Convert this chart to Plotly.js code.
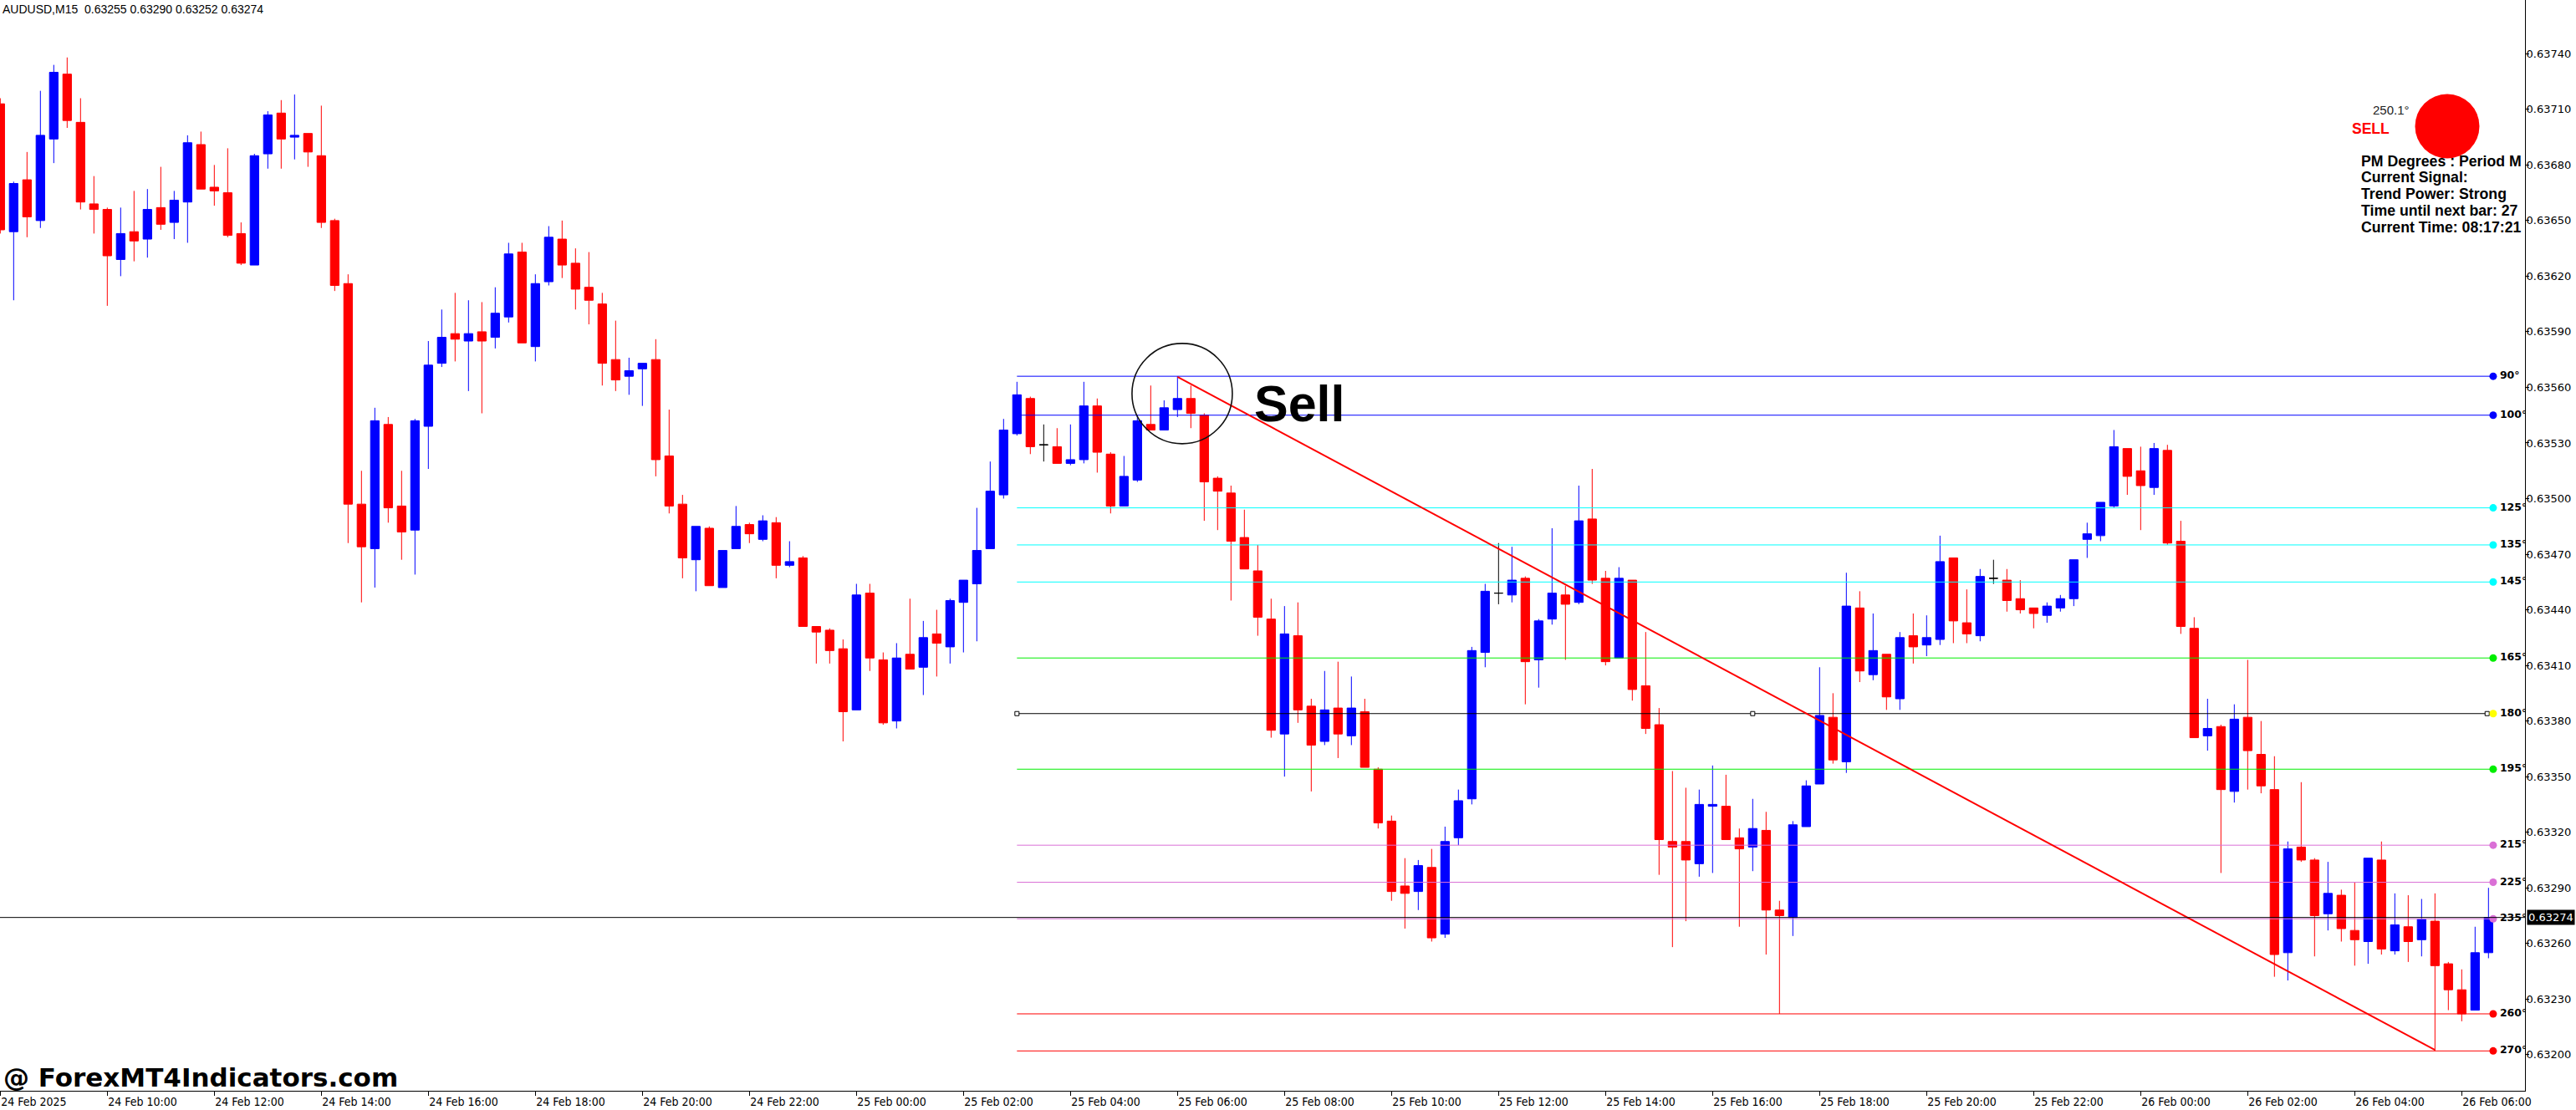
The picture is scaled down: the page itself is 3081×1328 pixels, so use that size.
<!DOCTYPE html>
<html><head><meta charset="utf-8">
<script src="https://cdn.plot.ly/plotly-3.0.1.min.js"></script>
<style>html,body{margin:0;padding:0;background:#fff;}#chart{width:3081px;height:1328px;}</style>
</head><body><div id="chart"></div>
<script>
// ---------------- DATA ----------------
const headerText = "AUDUSD,M15\u00a0\u00a00.63255 0.63290 0.63252 0.63274";
const startTime = "2025-02-24T08:00:00Z";
const barMinutes = 15;

const openP = [
0.63713,0.63644,0.63672,0.63650,0.63694,0.63729,0.63703,0.63659,0.63656,0.63629,
0.63644,0.63640,0.63657,0.63649,0.63660,0.63691,0.63668,0.63665,0.63643,0.63626,
0.63686,0.63708,0.63695,0.63697,0.63685,0.63650,0.63616,0.63497,0.63473,0.63540,
0.63496,0.63483,0.63539,0.63573,0.63589,0.63585,0.63590,0.63587,0.63598,0.63633,
0.63582,0.63617,0.63640,0.63627,0.63614,0.63605,0.63575,0.63566,0.63570,0.63575,
0.63523,0.63497,0.63467,0.63484,0.63452,0.63473,0.63486,0.63478,0.63487,0.63464,
0.63468,0.63431,0.63429,0.63419,0.63386,0.63449,0.63413,0.63380,0.63416,0.63409,
0.63427,0.63420,0.63444,0.63454,0.63473,0.63502,0.63535,0.63554,0.63529,0.63528,
0.63519,0.63521,0.63550,0.63524,0.63496,0.63510,0.63540,0.63537,0.63548,0.63554,
0.63545,0.63511,0.63503,0.63479,0.63461,0.63435,0.63373,0.63426,0.63388,0.63369,
0.63387,0.63372,0.63385,0.63354,0.63326,0.63291,0.63288,0.63301,0.63265,0.63317,
0.63338,0.63417,0.63449,0.63448,0.63457,0.63413,0.63435,0.63448,0.63444,0.63489,
0.63457,0.63414,0.63456,0.63399,0.63378,0.63315,0.63315,0.63303,0.63334,0.63334,
0.63317,0.63312,0.63321,0.63278,0.63274,0.63323,0.63346,0.63382,0.63358,0.63441,
0.63405,0.63416,0.63392,0.63426,0.63421,0.63424,0.63468,0.63433,0.63426,0.63457,
0.63456,0.63446,0.63441,0.63437,0.63441,0.63446,0.63478,0.63480,0.63496,0.63527,
0.63515,0.63506,0.63526,0.63477,0.63430,0.63372,0.63377,0.63342,0.63382,0.63362,
0.63343,0.63255,0.63312,0.63305,0.63276,0.63286,0.63267,0.63261,0.63305,0.63256,
0.63269,0.63262,0.63272,0.63249,0.63235,0.63224,0.63255];

const highP = [
0.63716,0.63671,0.63687,0.63720,0.63734,0.63738,0.63716,0.63674,0.63657,0.63657,
0.63666,0.63667,0.63679,0.63666,0.63696,0.63698,0.63680,0.63689,0.63649,0.63686,
0.63709,0.63715,0.63718,0.63697,0.63712,0.63651,0.63621,0.63515,0.63549,0.63544,
0.63515,0.63543,0.63585,0.63602,0.63611,0.63607,0.63606,0.63614,0.63638,0.63638,
0.63621,0.63647,0.63650,0.63635,0.63633,0.63611,0.63596,0.63576,0.63573,0.63586,
0.63548,0.63502,0.63485,0.63485,0.63472,0.63496,0.63487,0.63491,0.63490,0.63477,
0.63469,0.63431,0.63430,0.63424,0.63454,0.63454,0.63417,0.63422,0.63446,0.63434,
0.63440,0.63446,0.63456,0.63495,0.63520,0.63543,0.63563,0.63555,0.63540,0.63538,
0.63540,0.63563,0.63554,0.63525,0.63523,0.63545,0.63561,0.63553,0.63566,0.63561,
0.63546,0.63512,0.63507,0.63494,0.63475,0.63446,0.63442,0.63444,0.63392,0.63407,
0.63412,0.63404,0.63392,0.63355,0.63329,0.63306,0.63305,0.63311,0.63323,0.63343,
0.63420,0.63454,0.63476,0.63474,0.63458,0.63435,0.63484,0.63453,0.63507,0.63516,
0.63461,0.63463,0.63456,0.63428,0.63387,0.63353,0.63344,0.63343,0.63356,0.63351,
0.63322,0.63338,0.63331,0.63283,0.63326,0.63348,0.63409,0.63395,0.63460,0.63450,
0.63438,0.63416,0.63428,0.63438,0.63437,0.63480,0.63468,0.63451,0.63462,0.63467,
0.63462,0.63456,0.63441,0.63444,0.63448,0.63467,0.63487,0.63498,0.63537,0.63527,
0.63528,0.63530,0.63529,0.63488,0.63436,0.63392,0.63378,0.63389,0.63413,0.63380,
0.63361,0.63315,0.63347,0.63306,0.63304,0.63289,0.63293,0.63306,0.63315,0.63287,
0.63286,0.63284,0.63287,0.63250,0.63246,0.63269,0.63290];

const lowP = [
0.63643,0.63607,0.63641,0.63646,0.63681,0.63700,0.63656,0.63643,0.63604,0.63620,
0.63628,0.63630,0.63645,0.63640,0.63638,0.63667,0.63658,0.63641,0.63626,0.63626,
0.63678,0.63678,0.63683,0.63679,0.63646,0.63612,0.63476,0.63444,0.63452,0.63487,
0.63467,0.63459,0.63516,0.63571,0.63574,0.63558,0.63546,0.63581,0.63595,0.63584,
0.63574,0.63615,0.63619,0.63602,0.63594,0.63561,0.63558,0.63556,0.63550,0.63512,
0.63492,0.63457,0.63450,0.63453,0.63452,0.63473,0.63476,0.63477,0.63457,0.63463,
0.63431,0.63411,0.63411,0.63369,0.63386,0.63407,0.63378,0.63376,0.63408,0.63394,
0.63404,0.63411,0.63417,0.63423,0.63473,0.63500,0.63534,0.63524,0.63520,0.63519,
0.63518,0.63519,0.63514,0.63492,0.63496,0.63509,0.63537,0.63537,0.63544,0.63538,
0.63488,0.63483,0.63445,0.63462,0.63426,0.63371,0.63350,0.63379,0.63342,0.63367,
0.63360,0.63367,0.63355,0.63322,0.63283,0.63268,0.63278,0.63261,0.63263,0.63313,
0.63335,0.63409,0.63443,0.63444,0.63389,0.63398,0.63432,0.63413,0.63443,0.63454,
0.63410,0.63414,0.63391,0.63373,0.63297,0.63258,0.63272,0.63296,0.63298,0.63316,
0.63269,0.63299,0.63254,0.63222,0.63264,0.63323,0.63346,0.63357,0.63352,0.63401,
0.63402,0.63386,0.63386,0.63411,0.63415,0.63421,0.63422,0.63422,0.63423,0.63454,
0.63439,0.63438,0.63430,0.63433,0.63439,0.63442,0.63468,0.63477,0.63495,0.63502,
0.63483,0.63502,0.63475,0.63427,0.63371,0.63364,0.63298,0.63336,0.63343,0.63341,
0.63242,0.63240,0.63304,0.63253,0.63267,0.63261,0.63248,0.63249,0.63254,0.63254,
0.63250,0.63253,0.63202,0.63224,0.63218,0.63224,0.63252];

const closeP = [
0.63645,0.63670,0.63652,0.63696,0.63730,0.63704,0.63660,0.63656,0.63631,0.63643,
0.63639,0.63656,0.63648,0.63661,0.63692,0.63667,0.63666,0.63642,0.63627,0.63685,
0.63707,0.63694,0.63696,0.63687,0.63649,0.63615,0.63497,0.63474,0.63542,0.63495,
0.63482,0.63542,0.63572,0.63587,0.63586,0.63589,0.63585,0.63600,0.63632,0.63584,
0.63616,0.63641,0.63626,0.63613,0.63607,0.63573,0.63564,0.63569,0.63573,0.63521,
0.63496,0.63468,0.63485,0.63453,0.63472,0.63485,0.63481,0.63488,0.63464,0.63466,
0.63431,0.63428,0.63418,0.63385,0.63448,0.63414,0.63379,0.63414,0.63408,0.63425,
0.63422,0.63445,0.63456,0.63472,0.63504,0.63537,0.63556,0.63528,0.63529,0.63519,
0.63521,0.63550,0.63525,0.63496,0.63512,0.63542,0.63537,0.63549,0.63554,0.63546,
0.63509,0.63504,0.63477,0.63462,0.63436,0.63375,0.63427,0.63386,0.63367,0.63386,
0.63373,0.63387,0.63355,0.63325,0.63288,0.63287,0.63302,0.63263,0.63315,0.63337,
0.63418,0.63450,0.63449,0.63456,0.63412,0.63434,0.63449,0.63443,0.63488,0.63456,
0.63412,0.63457,0.63397,0.63376,0.63316,0.63312,0.63305,0.63335,0.63335,0.63316,
0.63311,0.63322,0.63278,0.63275,0.63324,0.63345,0.63383,0.63359,0.63442,0.63407,
0.63418,0.63393,0.63425,0.63420,0.63425,0.63466,0.63434,0.63427,0.63458,0.63457,
0.63445,0.63440,0.63438,0.63442,0.63446,0.63467,0.63481,0.63498,0.63528,0.63512,
0.63507,0.63527,0.63476,0.63431,0.63371,0.63376,0.63343,0.63381,0.63364,0.63345,
0.63254,0.63311,0.63305,0.63275,0.63287,0.63268,0.63262,0.63306,0.63257,0.63270,
0.63261,0.63273,0.63248,0.63235,0.63222,0.63255,0.63274];

const xTickTimes = ["2025-02-24 08:00","2025-02-24 10:00","2025-02-24 12:00","2025-02-24 14:00","2025-02-24 16:00","2025-02-24 18:00","2025-02-24 20:00","2025-02-24 22:00","2025-02-25 00:00","2025-02-25 02:00","2025-02-25 04:00","2025-02-25 06:00","2025-02-25 08:00","2025-02-25 10:00","2025-02-25 12:00","2025-02-25 14:00","2025-02-25 16:00","2025-02-25 18:00","2025-02-25 20:00","2025-02-25 22:00","2025-02-26 00:00","2025-02-26 02:00","2025-02-26 04:00","2025-02-26 06:00"];
const xTickLabels = ["24 Feb 2025","24 Feb 10:00","24 Feb 12:00","24 Feb 14:00","24 Feb 16:00","24 Feb 18:00","24 Feb 20:00","24 Feb 22:00","25 Feb 00:00","25 Feb 02:00","25 Feb 04:00","25 Feb 06:00","25 Feb 08:00","25 Feb 10:00","25 Feb 12:00","25 Feb 14:00","25 Feb 16:00","25 Feb 18:00","25 Feb 20:00","25 Feb 22:00","26 Feb 00:00","26 Feb 02:00","26 Feb 04:00","26 Feb 06:00"];
const yTickVals = [0.63200,0.63230,0.63260,0.63290,0.63320,0.63350,0.63380,0.63410,0.63440,0.63470,0.63500,0.63530,0.63560,0.63590,0.63620,0.63650,0.63680,0.63710,0.63740];
const yTickLabels = ["0.63200","0.63230","0.63260","0.63290","0.63320","0.63350","0.63380","0.63410","0.63440","0.63470","0.63500","0.63530","0.63560","0.63590","0.63620","0.63650","0.63680","0.63710","0.63740"];

const bidPrice = 0.63274;
const bidLabel = "0.63274";

const levelDeg   = [90,100,125,135,145,165,180,195,215,225,235,260,270];
const levelPrice = [0.63566,0.63545,0.63495,0.63475,0.63455,0.63414,0.63384,0.63354,0.63313,0.63293,0.632733,0.63222,0.63202];
const levelLineColor = ['#0000ff','#0000ff','#00ffff','#00ffff','#00ffff','#00ee00','#000000','#00ee00','#da70d6','#da70d6','#da70d6','#ff0000','#ff0000'];
const levelDotColor  = ['#0000ff','#0000ff','#00ffff','#00ffff','#00ffff','#00ee00','#ffff00','#00ee00','#da70d6','#da70d6','#da70d6','#ff0000','#ff0000'];

// trend line: from the high of bar 88 to the low of bar 182
const trendBars = [88, 182];
const trendPrices = [0.635657, 0.632025];

const infoAngle = "250.1\u00b0";
const infoSignal = "SELL";
const infoLines = ["PM Degrees : Period M","Current Signal:","Trend Power: Strong","Time until next bar: 27","Current Time: 08:17:21"];
const watermark = "@ ForexMT4Indicators.com";
const sellText = "Sell";

// ---------------- HELPERS ----------------
const t0 = Date.parse(startTime);
const step = barMinutes * 60000;
function dstr(k){ return new Date(t0 + k*step).toISOString().replace('T',' ').slice(0,23); }
const N = openP.length;
const times = openP.map((_, i) => dstr(i));
const allIdx = [...Array(N).keys()];
const dojiIdx = allIdx.filter(i => openP[i] === closeP[i]);
const bodyIdx = allIdx.filter(i => openP[i] !== closeP[i]);
const pick = (arr, ids) => ids.map(i => arr[i]);

const W = 3081, H = 1328, ML = 0, MR = 61, MT = 0, MB = 23;
const PW = W - ML - MR, PH = H - MT - MB;
const px2x = p => (p - ML) / PW;
const py2y = p => 1 - (p - MT) / PH;
const barPx = 16;
const xLeftBar = -0.02;
const xRightBar = xLeftBar + PW / barPx;
const yMin = 0.631805, yMax = 0.637690;

// ---------------- TRACES ----------------
const traces = [];
traces.push({
  type:'candlestick', x: pick(times, bodyIdx),
  open: pick(openP, bodyIdx), high: pick(highP, bodyIdx), low: pick(lowP, bodyIdx), close: pick(closeP, bodyIdx),
  increasing:{line:{color:'#0000ff', width:1}, fillcolor:'#0000ff'},
  decreasing:{line:{color:'#ff0000', width:1}, fillcolor:'#ff0000'},
  whiskerwidth:0, hoverinfo:'skip', showlegend:false
});
traces.push({
  type:'candlestick', x: pick(times, dojiIdx),
  open: pick(openP, dojiIdx), high: pick(highP, dojiIdx), low: pick(lowP, dojiIdx), close: pick(closeP, dojiIdx),
  increasing:{line:{color:'#000000', width:1}, fillcolor:'#000000'},
  decreasing:{line:{color:'#000000', width:1}, fillcolor:'#000000'},
  whiskerwidth:0, hoverinfo:'skip', showlegend:false
});

const levelStartBar = 76, levelEndBar = 186.35, levelLabelBar = 186.85;
levelPrice.forEach((p, k) => {
  traces.push({type:'scatter', mode:'lines', x:[dstr(levelStartBar), dstr(levelEndBar)], y:[p, p],
    line:{color: levelLineColor[k], width:1}, hoverinfo:'skip', showlegend:false});
});
// selection squares on the 180 line
traces.push({type:'scatter', mode:'markers', x:[dstr(76), dstr(131), dstr(185.9)], y:[levelPrice[6], levelPrice[6], levelPrice[6]],
  marker:{symbol:'square', size:5, color:'#ffffff', line:{color:'#000000', width:1}}, hoverinfo:'skip', showlegend:false});
// trend line
traces.push({type:'scatter', mode:'lines', x: trendBars.map(dstr), y: trendPrices,
  line:{color:'#ff0000', width:2}, hoverinfo:'skip', showlegend:false});
// level dots
traces.push({type:'scatter', mode:'markers', x: levelPrice.map(() => dstr(levelEndBar)), y: levelPrice,
  marker:{size:9, color: levelDotColor, line:{width:0}}, hoverinfo:'skip', showlegend:false});
// level labels
traces.push({type:'scatter', mode:'text', x: levelPrice.map(() => dstr(levelLabelBar)), y: levelPrice,
  text: levelDeg.map(d => d + '\u00b0'), textposition:'middle right',
  textfont:{family:'DejaVu Sans, Verdana, sans-serif', size:12.5, color:'#000', weight:'bold'},
  hoverinfo:'skip', showlegend:false});

// ---------------- LAYOUT ----------------
const baseFont = 'DejaVu Sans, Verdana, sans-serif';
const condFont = 'DejaVu Sans Condensed, DejaVu Sans, sans-serif';
const boldFont = 'Liberation Sans, Arial, sans-serif';
const annotations = [];
annotations.push({xref:'paper', yref:'paper', x: px2x(1), y: py2y(11), xanchor:'left', yanchor:'middle',
  text: headerText, showarrow:false, font:{family: boldFont, size:14, color:'#000'}});
annotations.push({xref:'paper', yref:'paper', x: px2x(2), y: py2y(1289), xanchor:'left', yanchor:'middle',
  text: watermark, showarrow:false, font:{family: baseFont, size:31, color:'#000', weight:'bold'}});
annotations.push({xref:'x', yref:'y', x: dstr(93.6), y: 0.635514, xanchor:'left', yanchor:'middle',
  text: sellText, showarrow:false, font:{family: boldFont, size:61, color:'#000', weight:'bold'}});
annotations.push({xref:'paper', yref:'paper', x: px2x(2835.7), y: py2y(131.7), xanchor:'left', yanchor:'middle',
  text: infoAngle, showarrow:false, font:{family: boldFont, size:15, color:'#222'}});
annotations.push({xref:'paper', yref:'paper', x: px2x(2811.3), y: py2y(153.8), xanchor:'left', yanchor:'middle',
  text: infoSignal, showarrow:false, font:{family: boldFont, size:17.5, color:'#ff0000', weight:'bold'}});
const infoY = [192.5, 212.3, 232.4, 252.4, 272.4];
infoLines.forEach((t, k) => {
  annotations.push({xref:'paper', yref:'paper', x: px2x(2822.3), y: py2y(infoY[k]), xanchor:'left', yanchor:'middle',
    text: t, showarrow:false, font:{family: boldFont, size:17.7, color:'#000', weight:'bold'}});
});
annotations.push({xref:'paper', yref:'y', x: 1, xshift: 2, y: bidPrice, xanchor:'left', yanchor:'middle',
  text: bidLabel, showarrow:false, bgcolor:'#000000', borderpad:1,
  font:{family: baseFont, size:13, color:'#ffffff'}});

const shapes = [
  {type:'line', xref:'paper', yref:'y', x0:0, x1:1, y0:bidPrice, y1:bidPrice, line:{color:'#000', width:1}},
  {type:'circle', xref:'x', yref:'y', x0: dstr(84.6), x1: dstr(92.1), y0: 0.635296, y1: 0.635837,
    line:{color:'#111', width:1.6}, fillcolor:'rgba(0,0,0,0)'},
  {type:'circle', xref:'paper', yref:'paper', x0: px2x(2888.5), x1: px2x(2965.5), y0: py2y(189.5), y1: py2y(112.5),
    line:{width:0}, fillcolor:'#ff0000'}
];

const layout = {
  width: W, height: H, margin:{l:ML, r:MR, t:MT, b:MB, pad:0},
  paper_bgcolor:'#ffffff', plot_bgcolor:'#ffffff', showlegend:false,
  boxgap:0.36, boxgroupgap:0,
  xaxis:{type:'date', range:[dstr(xLeftBar), dstr(xRightBar)], rangeslider:{visible:false},
    showgrid:false, zeroline:false, showline:true, linecolor:'#000', linewidth:1,
    ticks:'outside', ticklen:5, tickwidth:1, tickcolor:'#000',
    tickmode:'array', tickvals: xTickTimes, ticktext: xTickLabels,
    ticklabelposition:'outside right', ticklabeloverflow:'allow',
    tickfont:{family: condFont, size:14, color:'#000'}, fixedrange:true},
  yaxis:{side:'right', range:[yMin, yMax], showgrid:false, zeroline:false, showline:true,
    linecolor:'#000', linewidth:1, ticks:'outside', ticklen:4, tickwidth:1, tickcolor:'#000',
    tickmode:'array', tickvals: yTickVals, ticktext: yTickLabels, ticklabeloverflow:'allow',
    ticklabelstandoff:-6,
    tickfont:{family: baseFont, size:13, color:'#000'}, fixedrange:true},
  shapes: shapes, annotations: annotations
};

Plotly.newPlot('chart', traces, layout, {displayModeBar:false, staticPlot:true});
</script>
</body></html>
